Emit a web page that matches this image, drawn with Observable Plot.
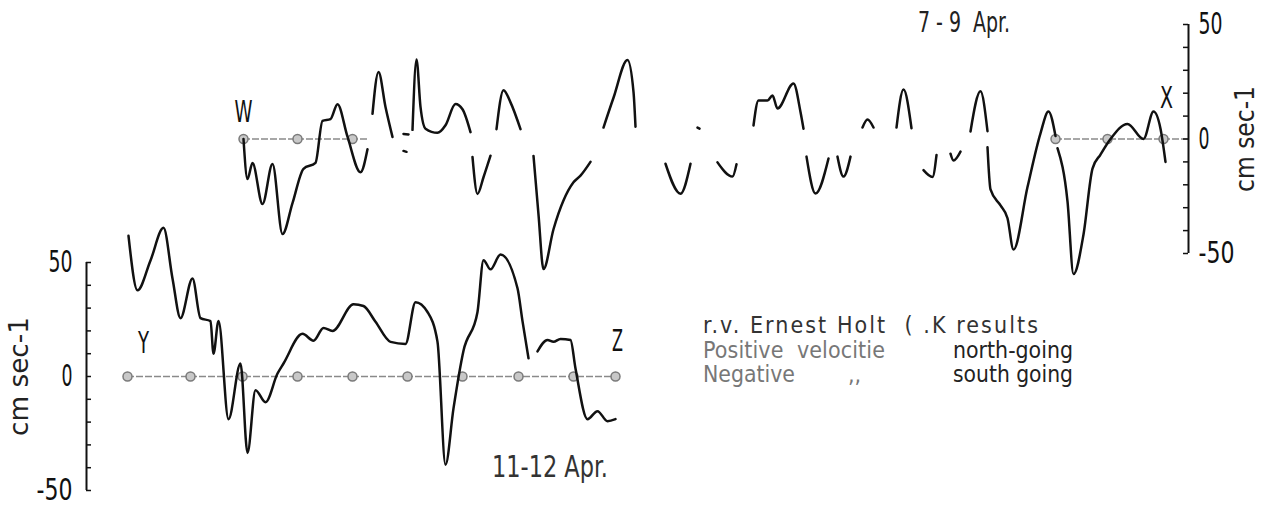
<!DOCTYPE html>
<html><head><meta charset="utf-8">
<script src="https://cdn.jsdelivr.net/npm/d3@7"></script>
<script src="https://cdn.jsdelivr.net/npm/@observablehq/plot@0.6"></script>
<style>
body{margin:0;background:#fff}
#wrap{position:relative;width:1267px;height:508px;overflow:hidden;font-family:"Liberation Sans Narrow","DejaVu Sans Condensed",sans-serif}
#wrap svg{position:absolute;left:0;top:0}
.t{position:absolute;white-space:pre;line-height:1;color:#222;transform-origin:0 50%}
</style></head><body><div id="wrap"></div>
<script>
// ---- data (x: along-section distance units, v: velocity cm/s; null = gap in trace) ----
const topTrace = [
 [0,0],[0.4,-17.5],[0.9,-10.5],[1.9,-28.4],[2.9,-10.9],[3.9,-41.5],[4.9,-28],[6.0,-13],[7.2,-10.4],[7.9,7.9],[8.7,8.7],[9.4,15.2],[10.4,1],[11.7,-14.5],[12.4,-4.5],
 null,[12.9,11],[13.5,29.3],[14.2,14],[14.9,0.9],
 null,[16.0,2.2],[16.5,2],
 null,[16.0,-5.2],[16.3,-5.6],
 null,[16.9,4],[17.3,34.7],[17.7,14],[18.2,4.5],[19.4,2.7],[20.2,6],[21.2,15.3],[21.9,13],[22.7,3],
 null,[22.9,-7.9],[23.4,-24],[24.0,-16.7],[24.7,-7.3],
 null,[25.3,4.3],[26.0,21.3],[26.7,16],[27.7,4.3],
 null,[29.0,-7.4],[29.5,-33],[30.0,-56.8],[31.0,-39.4],[33.0,-18.9],[33.7,-16],[34.7,-10],
 null,[36.0,5],[37.0,18],[38.4,34.5],[39.0,20.6],[39.2,5.4],
 null,[42.2,-10.8],[43.7,-23.9],[44.7,-10.8],
 null,[45.4,5],[45.6,4.5],
 null,[47.4,-10.2],[48.9,-16.4],[49.3,-11],
 null,[51.0,5.9],[51.5,16.8],[52.4,16.8],[52.9,19],[53.4,13.3],[55.0,24.2],[55.7,11.8],[56.0,4.5],
 null,[56.3,-7.7],[57.2,-23.8],[58.5,-8.5],
 null,[59.4,-7.7],[60.0,-16.4],[60.7,-7.7],
 null,[61.9,5],[62.4,8.5],[63.0,5],
 null,[65.3,5],[66.0,21.6],[66.8,4.7],
 null,[68.0,-13.6],[68.9,-16.6],[69.3,-7],
 null,[70.7,-6.4],[71.0,-9.4],[71.7,-5.5],
 null,[72.7,3.3],[73.7,20.8],[74.4,3.4],
 null,[74.4,-3.6],[74.7,-22],[75.7,-29],[76.4,-34.6],[77.0,-48.3],[78.4,-21],[79.7,2.5],[80.5,12],[81.2,1.3],
 null,[81.4,-4],[82.4,-27.2],[83.0,-59],[84.0,-41.7],[84.9,-12.9],[85.7,-6.8],[86.7,0],[88.4,6.6],[90.0,0],[91.0,12],[91.7,4.5],[92.2,-10]
];
const bottomTrace = [
 [4.2,61.7],[5.1,37.8],[6.4,50.9],[7.7,65.2],[8.6,43],[9.4,25.6],[10.6,43],[11.4,25.6],[12.4,24.3],[12.7,10],[13.2,24.3],[14.2,-18.7],[15.4,5.7],[16.1,-33.5],[16.9,-6],[17.9,-11.3],[19.1,1.3],[19.7,5.7],[21.6,18.7],[22.7,15.7],[23.7,21.3],[24.6,20],[26.7,31.7],[27.7,30.9],[28.9,24],[30.4,15.2],[31.9,14.3],[32.9,32.6],[34.1,28.3],[35.1,15.2],[35.9,-38.7],[36.7,-14],[37.7,11.3],[39.1,28.3],[39.7,51],[40.4,47],[41.4,53.5],[43.1,38.7],[43.6,24.3],[44.2,8],
 null,[45.1,11],[46.1,16],[46.7,15.2],[47.4,16.5],[48.4,16],[48.9,3.5],[50.1,-18.7],[51.1,-15.2],[52.1,-19.6],[52.9,-18.7]
];
const topStations = [0, 5.4, 10.9, 81.2, 86.4, 92];
const bottomStations = [4.1, 10.4, 15.6, 21.1, 26.6, 32.1, 37.6, 43.2, 48.7, 52.9];
const topZeroSegments = [[0, 12.4], [81.2, 94.5]];
const bottomZeroSegments = [[4.1, 52.9]];
const topLetters = [{x: 0, v: 11.6, t: "W"}, {x: 92.3, v: 18, t: "X"}];
const bottomLetters = [{x: 5.7, v: 14.8, t: "Y"}, {x: 53.1, v: 15.7, t: "Z"}];
const yTicks = [-50, -40, -30, -20, -10, 0, 10, 20, 30, 40, 50];
const yTickLabels = [-50, 0, 50];
const topAxisX = 94.5;
const bottomAxisX = 0;
const unitLabel = "cm sec-1";

// ---- helpers ----
const FONT = '"Liberation Sans Narrow","DejaVu Sans Condensed",sans-serif';
const toRows = tr => tr.map(p => p ? {x: p[0], v: p[1]} : {x: NaN, v: NaN});
const fmt = d => d < 0 ? "-" + Math.abs(d) : String(d);

function fitTexts(svg, widths) {
  svg.querySelectorAll("text").forEach(t => {
    const w = widths[t.textContent];
    if (w) { t.setAttribute("textLength", w); t.setAttribute("lengthAdjust", "spacingAndGlyphs"); }
  });
}

function panel({trace, stations, zeroSegs, letters, axisX, axisSide, domainX, margins, unitWidth}) {
  const right = axisSide === "right";
  const tickX2 = right ? axisX - 0.5 : axisX + 0.5;
  const svg = Plot.plot({
    width: 1267, height: 508,
    ...margins,
    x: {domain: domainX, axis: null},
    y: {domain: [-50, 50], axis: null},
    style: {background: "transparent", fontFamily: FONT, overflow: "visible"},
    marks: [
      Plot.ruleY(zeroSegs, {x1: d => d[0], x2: d => d[1], y: 0, stroke: "#8a8a8a", strokeWidth: 1.7, strokeDasharray: "7,2"}),
      Plot.dot(stations, {x: d => d, y: 0, r: 4.5, stroke: "#7a7a7a", strokeWidth: 1.5, fill: "#c8c8c8"}),
      Plot.line(toRows(trace), {x: "x", y: "v", stroke: "#111", strokeWidth: 2.5, curve: "monotone-x"}),
      Plot.ruleX([axisX], {y1: -50, y2: 50, stroke: "#111", strokeWidth: 2}),
      Plot.ruleY(yTicks, {x1: axisX, x2: tickX2, y: d => d, stroke: "#111", strokeWidth: 1.5}),
      Plot.text(yTickLabels, {frameAnchor: axisSide, y: d => d, text: fmt, dx: right ? 10 : -14,
        textAnchor: right ? "start" : "end", fontSize: 31, fill: "#111"}),
      Plot.text([unitLabel], {frameAnchor: axisSide, rotate: -90, dx: right ? 57 : -67, textAnchor: "middle",
        fontSize: 27, fill: "#222"}),
      Plot.text(letters, {x: "x", y: "v", text: "t", fontSize: 31, fill: "#111"})
    ]
  });
  fitTexts(svg, {"50": 24, "0": 11, "-50": 36, "W": 18, "X": 13, "Y": 11, "Z": 11, [unitLabel]: unitWidth});
  return svg;
}

const wrap = document.getElementById("wrap");
wrap.appendChild(panel({
  trace: topTrace, stations: topStations, zeroSegs: topZeroSegments, letters: topLetters,
  axisX: topAxisX, axisSide: "right", domainX: [0, 94.5], unitWidth: 106,
  margins: {marginLeft: 243, marginRight: 79, marginTop: 24, marginBottom: 255}
}));
wrap.appendChild(panel({
  trace: bottomTrace, stations: bottomStations, zeroSegs: bottomZeroSegments, letters: bottomLetters,
  axisX: bottomAxisX, axisSide: "left", domainX: [0, 60], unitWidth: 119,
  margins: {marginLeft: 86, marginRight: 581, marginTop: 262, marginBottom: 18}
}));

// ---- annotations ----
function note(text, left, baseline, size, color, target) {
  const d = document.createElement("div");
  d.className = "t";
  d.textContent = text;
  d.style.left = left + "px";
  d.style.top = (baseline - size * 0.845) + "px";
  d.style.fontSize = size + "px";
  if (color) d.style.color = color;
  wrap.appendChild(d);
  if (target) {
    const w = d.getBoundingClientRect().width;
    if (w > target) d.style.transform = `scaleX(${target / w})`;
    else d.style.letterSpacing = ((target - w) / text.length) + "px";
  }
}
note("7 - 9  Apr.", 918, 33, 28, "#222", 92);
note("11-12 Apr.", 492, 477, 31, "#333", 116);
note("r.v. Ernest Holt  ( .K results", 703, 333, 23, "#333", 337);
note("Positive  velocitie", 703, 358, 23, "#777", 182);
note("north-going", 953, 358, 23, "#222", 120);
note("Negative", 703, 382, 23, "#777", 92);
note(",,", 848, 382, 23, "#777");
note("south going", 953, 382, 23, "#222", 120);
</script></body></html>
